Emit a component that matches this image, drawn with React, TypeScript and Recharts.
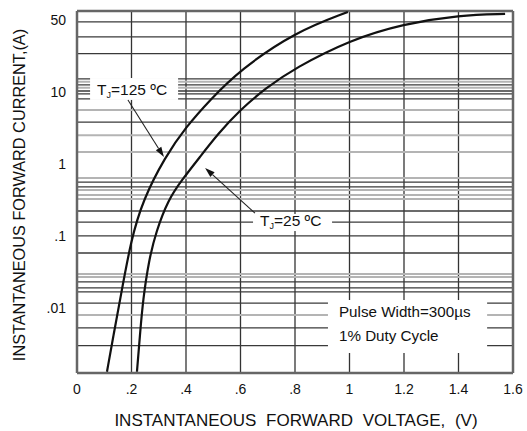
import React from "react";
import { LineChart, Line, XAxis, YAxis, CartesianGrid, ReferenceLine } from "recharts";

// axis ticks
const xTicks = [0, 0.2, 0.4, 0.6, 0.8, 1.0, 1.2, 1.4, 1.6];
const xTickLabels = ["0", ".2", ".4", ".6", ".8", "1", "1.2", "1.4", "1.6"];
const yTicks = [0.01, 0.1, 1, 10, 100];
const yTickLabels = [".01", ".1", "1", "10", "50"];

// TJ = 125 C curve (volts, amps)
const volt125 = [0.11, 0.134, 0.158, 0.198, 0.242, 0.323, 0.4, 0.488, 0.598, 0.8, 0.994];
const amp125 = [0.0013, 0.0042, 0.0129, 0.088, 0.316, 1.25, 3.27, 7.74, 20.2, 68, 129];

// TJ = 25 C curve
const volt25 = [0.22, 0.231, 0.242, 0.264, 0.29, 0.334, 0.385, 0.451, 0.517, 0.598, 0.694, 0.8, 1.002, 1.196, 1.405, 1.571];
const amp25 = [0.0013, 0.0042, 0.0129, 0.0464, 0.114, 0.316, 0.6, 1.25, 2.61, 5.62, 11.4, 21.5, 52.7, 88, 117, 121];

// horizontal grid lines of the datasheet (amps)
const darkGrid = [94, 58, 34, 15.2, 12.5, 10.3, 9.4, 8.0, 3.8, 0.56, 0.48, 0.222, 0.156, 0.1, 0.058, 0.023, 0.019, 0.0167, 0.0117, 0.0053, 0.003];
const grayGrid = [13.8, 11.4, 5.6, 2.5, 1.47, 0.64, 0.435, 0.37, 0.327, 0.0297, 0.027, 0.008];

const Y_MIN = 0.00125;
const Y_MAX = 133;

const data125 = volt125.map((v, k) => ({ v, i: amp125[k] }));
const data25 = volt25.map((v, k) => ({ v, i: amp25[k] }));

const FONT = "'Liberation Sans', Arial, Helvetica, sans-serif";

const Arrow = (p: any) => {
  const { x1, y1, x2, y2 } = p;
  const a = Math.atan2(y2 - y1, x2 - x1);
  const L = 10;
  const w = 3.2;
  const bx = x2 - L * Math.cos(a);
  const by = y2 - L * Math.sin(a);
  const pts = [
    [x2, y2],
    [bx + w * Math.sin(a), by - w * Math.cos(a)],
    [bx - w * Math.sin(a), by + w * Math.cos(a)],
  ]
    .map((q) => q.join(","))
    .join(" ");
  return (
    <g>
      <line x1={x1} y1={y1} x2={bx} y2={by} stroke="#222" strokeWidth={1.1} />
      <polygon points={pts} fill="#111" />
    </g>
  );
};

// white box with a TJ label, drawn between the two segment corners
const tjBox = (temp: string) => (p: any) => {
  const x = Math.min(p.x1, p.x2);
  const y = Math.min(p.y1, p.y2);
  const w = Math.abs(p.x2 - p.x1);
  const h = Math.abs(p.y2 - p.y1);
  return (
    <g>
      <rect x={x} y={y} width={w} height={h} fill="#fff" />
      <text x={x + 7} y={y + h - 5} fontSize={15.5} fontFamily={FONT} fill="#111">
        T
        <tspan fontSize={9} dy={3}>J</tspan>
        <tspan dy={-3}>={temp} ºC</tspan>
      </text>
    </g>
  );
};

const pulseBox = (p: any) => {
  const x = Math.min(p.x1, p.x2);
  const y = Math.min(p.y1, p.y2);
  const w = Math.abs(p.x2 - p.x1);
  const h = Math.abs(p.y2 - p.y1);
  return (
    <g>
      <rect x={x} y={y} width={w} height={h} fill="#fff" />
      <text x={x + 11} y={y + 17} fontSize={15.2} fontFamily={FONT} fill="#111">
        Pulse Width=300µs
      </text>
      <text x={x + 11} y={y + 41} fontSize={15.2} fontFamily={FONT} fill="#111">
        1% Duty Cycle
      </text>
    </g>
  );
};

const xTitle = () => (
  <text x={296} y={426} textAnchor="middle" fontSize={17} fontFamily={FONT} fill="#111" wordSpacing={5}>
    INSTANTANEOUS FORWARD VOLTAGE, (V)
  </text>
);

const yTitle = () => (
  <text x={25} y={195} transform="rotate(-90 25 195)" textAnchor="middle" fontSize={16.3} fontFamily={FONT} fill="#111">
    INSTANTANEOUS FORWARD CURRENT,(A)
  </text>
);

export default function App() {
  return (
    <div style={{ position: "absolute", left: 0, top: 0, background: "#fff" }}>
      <LineChart width={527} height={431} margin={{ top: 11, right: 14, bottom: 0, left: 0 }}>
        <CartesianGrid horizontal={false} stroke="#333" strokeWidth={1.3} />
        {grayGrid.map((g) => (
          <ReferenceLine key={"g" + g} y={g} stroke="#b4b4b4" strokeWidth={2} />
        ))}
        {darkGrid.map((g) => (
          <ReferenceLine key={"d" + g} y={g} stroke="#3a3a3a" strokeWidth={1.3} />
        ))}
        <ReferenceLine x={0} stroke="#666" strokeWidth={2.5} />
        <ReferenceLine x={1.6} stroke="#666" strokeWidth={2.5} />
        <ReferenceLine y={Y_MIN} stroke="#666" strokeWidth={2.5} />
        <ReferenceLine y={Y_MAX} stroke="#666" strokeWidth={2.5} />
        <ReferenceLine segment={[{ x: 0.048, y: 15.6 }, { x: 0.371, y: 7.74 }]} shape={tjBox("125")} />
        <ReferenceLine segment={[{ x: 0.646, y: 0.202 }, { x: 0.936, y: 0.117 }]} shape={tjBox("25")} />
        <ReferenceLine segment={[{ x: 0.921, y: 0.0129 }, { x: 1.505, y: 0.00237 }]} shape={pulseBox} />
        <ReferenceLine segment={[{ x: 0.187, y: 7.74 }, { x: 0.319, y: 1.25 }]} shape={Arrow} />
        <ReferenceLine segment={[{ x: 0.653, y: 0.208 }, { x: 0.47, y: 0.88 }]} shape={Arrow} />
        <XAxis
          dataKey="v"
          type="number"
          domain={[0, 1.6]}
          ticks={xTicks}
          interval={0}
          tickFormatter={(v: number) => xTickLabels[xTicks.indexOf(v)]}
          axisLine={false}
          tickLine={false}
          tickSize={0}
          tickMargin={11}
          height={58}
          tick={{ fontSize: 14, fill: "#111", fontFamily: FONT }}
          label={xTitle}
        />
        <YAxis
          dataKey="i"
          type="number"
          scale="log"
          domain={[Y_MIN, Y_MAX]}
          allowDataOverflow
          ticks={yTicks}
          interval={0}
          tickFormatter={(v: number) => yTickLabels[yTicks.indexOf(v)]}
          axisLine={false}
          tickLine={false}
          tickSize={0}
          tickMargin={11}
          width={77}
          tick={{ fontSize: 14, fill: "#111", fontFamily: FONT }}
          label={yTitle}
        />
        <Line data={data125} dataKey="i" type="basis" stroke="#111" strokeWidth={2.2} dot={false} isAnimationActive={false} />
        <Line data={data25} dataKey="i" type="basis" stroke="#111" strokeWidth={2.2} dot={false} isAnimationActive={false} />
      </LineChart>
    </div>
  );
}
